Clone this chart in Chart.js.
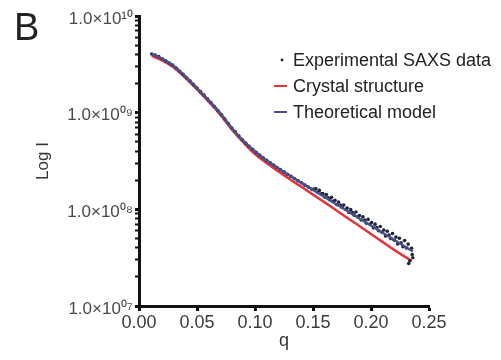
<!DOCTYPE html>
<html>
<head>
<meta charset="utf-8">
<script src="https://cdn.jsdelivr.net/npm/chart.js@4.4.1/dist/chart.umd.min.js"></script>
<style>
  html, body { margin: 0; padding: 0; background: #fff; }
  #wrap { width: 501px; height: 360px; position: relative; }
</style>
</head>
<body>
<div id="wrap"><canvas id="saxs"></canvas></div>
<script>
// SAXS curve: log I vs q

// experimental points (q, I)
const expQ = [
  0.011,0.014,0.017,0.020,0.023,0.026,0.029,0.032,0.035,0.038,
  0.041,0.044,0.047,0.050,0.053,0.056,0.059,0.062,0.065,0.068,
  0.071,0.074,0.077,0.080,0.083,0.086,0.089,0.092,0.095,0.098,
  0.101,0.104,0.107,0.110,0.113,0.116,0.119,0.122,0.125,0.128,
  0.131,0.134,0.137,0.140,0.143,0.146,0.149,
  0.1510,0.1525,0.1540,0.1555,0.1570,0.1585,0.1600,0.1615,0.1630,0.1645,
  0.1660,0.1675,0.1690,0.1705,0.1720,0.1735,0.1750,0.1765,0.1780,0.1795,
  0.1810,0.1825,0.1840,0.1855,0.1870,0.1885,0.1900,0.1915,0.1930,0.1945,
  0.1960,0.1975,0.1990,0.2005,0.2020,0.2035,0.2050,0.2065,0.2080,0.2095,
  0.2110,0.2125,0.2140,0.2155,0.2170,0.2185,0.2200,0.2215,0.2230,0.2245,
  0.2260,0.2275,0.2290,0.2305,0.2320,0.2325,0.2335,0.2350,0.2355,0.2360
];
const expI = [
  4.05e9,3.94e9,3.80e9,3.61e9,3.43e9,3.26e9,3.10e9,2.89e9,2.68e9,2.49e9,
  2.30e9,2.12e9,1.95e9,1.80e9,1.65e9,1.52e9,1.39e9,1.27e9,1.16e9,1.05e9,
  9.55e8,8.59e8,7.73e8,6.95e8,6.34e8,5.77e8,5.26e8,4.84e8,4.50e8,4.17e8,
  3.88e8,3.64e8,3.42e8,3.21e8,3.03e8,2.87e8,2.71e8,2.57e8,2.44e8,2.31e8,
  2.19e8,2.08e8,1.98e8,1.88e8,1.78e8,1.70e8,1.61e8,
  1.62e8,1.63e8,1.50e8,1.57e8,1.45e8,1.46e8,1.34e8,1.42e8,1.32e8,1.26e8,
  1.33e8,1.21e8,1.24e8,1.12e8,1.19e8,1.11e8,1.05e8,1.11e8,1.00e8,1.03e8,
  9.29e7,9.93e7,9.25e7,8.71e7,9.40e7,8.36e7,8.63e7,7.76e7,8.39e7,7.73e7,
  7.19e7,7.87e7,7.00e7,7.31e7,6.43e7,7.03e7,6.47e7,6.01e7,6.65e7,5.78e7,
  6.11e7,5.31e7,5.94e7,5.41e7,4.98e7,5.62e7,4.78e7,5.16e7,4.39e7,5.02e7,
  4.51e7,4.10e7,4.75e7,3.99e7,4.37e7,2.75e7,2.94e7,3.96e7,3.40e7,3.16e7
];

// crystal structure fit
const crystalQ = [0.011,0.02,0.03,0.04,0.05,0.06,0.07,0.08,0.09,0.10,0.11,0.12,0.13,0.14,0.15,0.16,0.17,0.18,0.19,0.20,0.21,0.22,0.235];
const crystalI = [3.86e9,3.48e9,2.93e9,2.29e9,1.74e9,1.30e9,9.54e8,6.71e8,4.92e8,3.73e8,3.01e8,2.48e8,2.05e8,1.71e8,1.42e8,1.18e8,9.8e7,8.1e7,6.73e7,5.56e7,4.61e7,3.81e7,2.92e7];

// theoretical model fit
const modelQ = [0.011,0.02,0.03,0.04,0.05,0.06,0.07,0.08,0.09,0.10,0.11,0.12,0.13,0.14,0.15,0.16,0.17,0.18,0.19,0.20,0.21,0.22,0.23,0.236];
const modelI = [4.05e9,3.61e9,3.04e9,2.37e9,1.80e9,1.35e9,9.89e8,6.95e8,5.10e8,3.96e8,3.21e8,2.66e8,2.23e8,1.88e8,1.59e8,1.34e8,1.13e8,9.55e7,8.05e7,6.81e7,5.73e7,4.83e7,4.07e7,3.67e7];

// axes
const xTicks = [0, 0.05, 0.10, 0.15, 0.20, 0.25];
const yMajor = [1e7, 1e8, 1e9, 1e10];
const yTickLabels = ['1.0×10⁰⁷', '1.0×10⁰⁸', '1.0×10⁰⁹', '1.0×10¹⁰'];
const yMinorSteps = [2, 3, 4, 5, 6, 7, 8, 9];

const seriesNames = ['Experimental SAXS data', 'Crystal structure', 'Theoretical model'];
const COL_DOT = '#1d2533';
const COL_RED = '#e3343c';
const COL_BLUE = '#47508c';
const FONT = '"Liberation Sans", Arial, Helvetica, sans-serif';

function toXY(qs, is){
  return qs.map((q, i) => ({x: q, y: is[i]}));
}

// all y tick values: majors + minors per decade
const yTickValues = [];
yMajor.forEach((m, i) => {
  yTickValues.push(m);
  if(i < yMajor.length - 1){
    yMinorSteps.forEach(s => yTickValues.push(m * s));
  }
});

// panel letter + legend, drawn after the chart
const extras = {
  id: 'extras',
  afterDraw(chart){
    const ctx = chart.ctx;
    ctx.save();
    ctx.fillStyle = '#222';
    ctx.textBaseline = 'alphabetic';
    ctx.textAlign = 'left';
    ctx.font = '38px ' + FONT;
    ctx.fillText('B', 14, 40);

    const lx = 274, tx = 293;
    const rows = [60, 86, 112];
    ctx.font = '18px ' + FONT;
    ctx.textBaseline = 'middle';
    // dot marker
    ctx.fillStyle = COL_DOT;
    ctx.beginPath();
    ctx.arc(282, rows[0], 1.4, 0, Math.PI * 2);
    ctx.fill();
    // line markers
    ctx.lineWidth = 2;
    ctx.strokeStyle = COL_RED;
    ctx.beginPath(); ctx.moveTo(lx, rows[1]); ctx.lineTo(lx + 13, rows[1]); ctx.stroke();
    ctx.strokeStyle = COL_BLUE;
    ctx.beginPath(); ctx.moveTo(lx, rows[2]); ctx.lineTo(lx + 13, rows[2]); ctx.stroke();
    ctx.fillStyle = '#222';
    seriesNames.forEach((n, i) => ctx.fillText(n, tx, rows[i] + 1));
    ctx.restore();
  }
};

new Chart(document.getElementById('saxs'), {
  type: 'scatter',
  data: {
    datasets: [
      {
        label: seriesNames[0],
        data: toXY(expQ, expI),
        pointRadius: 1.8,
        pointBackgroundColor: COL_DOT,
        pointBorderWidth: 0,
        showLine: false,
        order: 1
      },
      {
        label: seriesNames[1],
        data: toXY(crystalQ, crystalI),
        showLine: true,
        borderColor: COL_RED,
        borderWidth: 2.5,
        pointRadius: 0,
        tension: 0.4,
        order: 2
      },
      {
        label: seriesNames[2],
        data: toXY(modelQ, modelI),
        showLine: true,
        borderColor: COL_BLUE,
        borderWidth: 2.5,
        pointRadius: 0,
        tension: 0.4,
        order: 0
      }
    ]
  },
  options: {
    responsive: true,
    maintainAspectRatio: false,
    animation: false,
    layout: { padding: { left: 0, top: 16, right: 72, bottom: 0 } },
    plugins: { legend: { display: false }, tooltip: { enabled: false } },
    scales: {
      x: {
        type: 'linear',
        min: 0, max: 0.25,
        afterBuildTicks: s => { s.ticks = xTicks.map(v => ({value: v})); },
        afterFit: s => { s.height = 54; },
        border: { display: true, color: '#111', width: 3 },
        grid: { drawOnChartArea: false, drawTicks: true, tickLength: 5, tickWidth: 3, tickColor: '#111' },
        ticks: {
          color: '#3a3a3a', padding: 1, autoSkip: false, maxRotation: 0,
          font: { family: FONT, size: 18 },
          callback: v => Number(v).toFixed(2)
        },
        title: {
          display: true, text: 'q', color: '#333',
          font: { family: FONT, size: 18 },
          padding: { top: 0, bottom: 8 }
        }
      },
      y: {
        type: 'logarithmic',
        min: 1e7, max: 1e10,
        afterBuildTicks: s => {
          s.ticks = yTickValues.map(v => ({value: v, major: yMajor.includes(v)}));
        },
        afterFit: s => { s.width = 139; },
        border: { display: true, color: '#111', width: 3 },
        grid: {
          drawOnChartArea: false, drawTicks: true, tickLength: 4,
          tickWidth: c => (c.tick && yMajor.includes(c.tick.value)) ? 3 : 2,
          tickColor: '#111'
        },
        ticks: {
          color: '#4a4a4a', padding: 2, autoSkip: false, labelOffset: 3,
          font: { family: FONT, size: 17 },
          callback: v => {
            const k = yMajor.indexOf(v);
            return k >= 0 ? yTickLabels[k] : '';
          }
        },
        title: {
          display: true, text: 'Log I', color: '#333',
          font: { family: FONT, size: 17 },
          padding: { top: 33, bottom: 0 }
        }
      }
    }
  },
  plugins: [extras]
});
</script>
</body>
</html>
